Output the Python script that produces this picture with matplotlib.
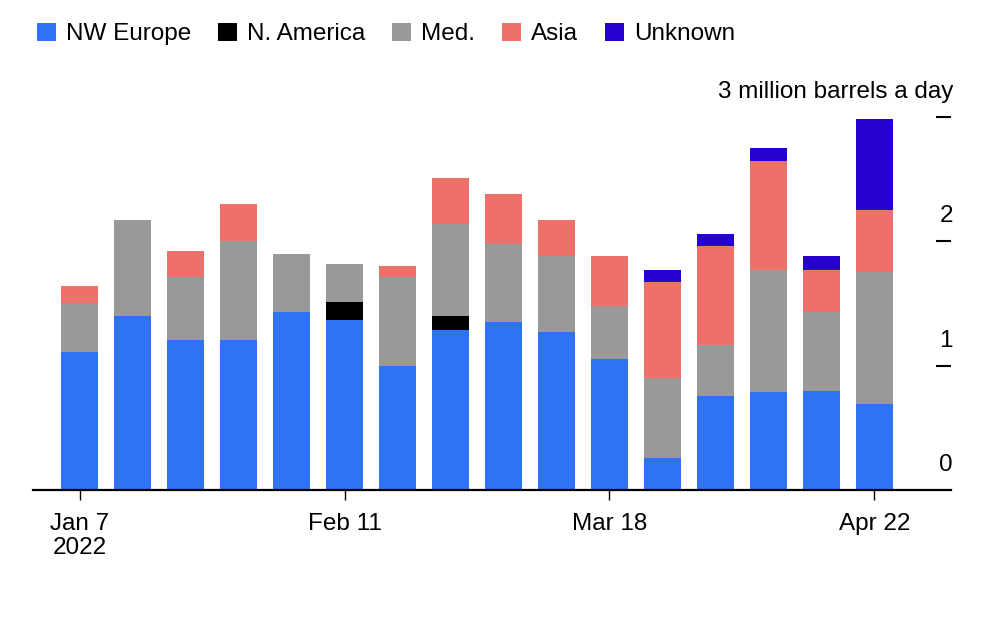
import numpy as np
import matplotlib.pyplot as plt
from matplotlib.patches import Patch
from matplotlib.transforms import blended_transform_factory, offset_copy

plt.rcParams['font.family'] = ['Liberation Sans', 'DejaVu Sans']

# weekly crude exports by destination, million barrels a day
weeks = ['Jan 7', 'Jan 14', 'Jan 21', 'Jan 28', 'Feb 4', 'Feb 11', 'Feb 18', 'Feb 25',
         'Mar 4', 'Mar 11', 'Mar 18', 'Mar 25', 'Apr 1', 'Apr 8', 'Apr 15', 'Apr 22']
nw_europe = [1.11, 1.40, 1.21, 1.21, 1.43, 1.37, 1.00, 1.29, 1.35, 1.27, 1.05, 0.26, 0.76, 0.79, 0.80, 0.69]
n_america = [0, 0, 0, 0, 0, 0.14, 0, 0.11, 0, 0, 0, 0, 0, 0, 0, 0]
med = [0.39, 0.77, 0.50, 0.79, 0.47, 0.31, 0.71, 0.74, 0.63, 0.61, 0.43, 0.64, 0.41, 0.98, 0.63, 1.06]
asia = [0.14, 0, 0.21, 0.30, 0, 0, 0.09, 0.37, 0.40, 0.29, 0.40, 0.77, 0.79, 0.88, 0.34, 0.50]
unknown = [0, 0, 0, 0, 0, 0, 0, 0, 0, 0, 0, 0.10, 0.10, 0.10, 0.11, 0.73]

series = [('NW Europe', nw_europe, '#3072F5'),
          ('N. America', n_america, '#000000'),
          ('Med.', med, '#999999'),
          ('Asia', asia, '#ED706A'),
          ('Unknown', unknown, '#2600CF')]

tick_idx = [0, 5, 10, 15]
tick_labels = ['Jan 7\n2022', 'Feb 11', 'Mar 18', 'Apr 22']
y_ticks = [1, 2, 3]
y_labels = ['1', '2', '3 million barrels a day']

W, H = 994, 636
fig = plt.figure(figsize=(W / 100, H / 100), dpi=100)
ax = fig.add_axes([33 / W, (H - 490) / H, (951 - 33) / W, (490 - 117) / H])

x = np.arange(len(weeks))
bottom = np.zeros(len(weeks))
for name, vals, col in series:
    vals = np.array(vals)
    ax.bar(x, vals, width=0.7, bottom=bottom, color=col, linewidth=0)
    bottom += vals

ax.set_xlim(-0.887, 16.45)
ax.set_ylim(0, 3)

for s in ['top', 'left', 'right']:
    ax.spines[s].set_visible(False)
ax.spines['bottom'].set_linewidth(1.6)

ax.set_xticks(tick_idx)
ax.set_xticklabels(tick_labels, fontsize=17.5)
ax.tick_params(axis='x', length=7.5, width=1.0, pad=9)
for lbl in ax.get_xticklabels():
    lbl.set_linespacing(1.1)

ax.yaxis.tick_right()
ax.set_yticks(y_ticks)
ax.set_yticklabels([])
ax.tick_params(axis='y', direction='in', length=10.8, width=1.5, right=True, left=False)

tr = blended_transform_factory(ax.transAxes, ax.transData)
tr = offset_copy(tr, fig=fig, x=2, y=25, units='dots')
for val, lab in zip([0] + y_ticks, ['0'] + y_labels):
    ax.text(1.0, val, lab, transform=tr, ha='right', va='center', fontsize=17.5)

handles = [Patch(facecolor=c, linewidth=0) for _, _, c in series]
fig.legend(handles, [n for n, _, _ in series], loc='center left',
           bbox_to_anchor=(37 / W, 1 - 34 / H), ncol=5, frameon=False,
           fontsize=17.5, handlelength=0.78, handleheight=0.8,
           handletextpad=0.42, columnspacing=1.1, borderpad=0, borderaxespad=0)

fig.savefig('out.png', dpi=100)
